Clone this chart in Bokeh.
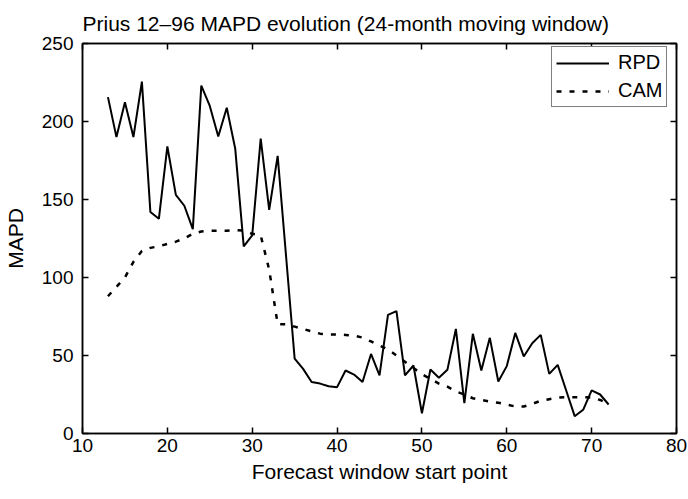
from bokeh.plotting import figure
from bokeh.models import LinearAxis, FixedTicker, Range1d
from bokeh.embed import file_html
from bokeh.resources import INLINE

# forecast window start points
window_start = list(range(13, 73))

# MAPD, one value per start point
rpd = [215.6, 190, 212.4, 190, 225.6, 142, 137.6, 184, 153, 146,
       131, 223, 210, 190.4, 208.8, 182.5, 120, 127, 189, 143.4,
       178, 113, 48, 41.4, 33, 32, 30.3, 29.7, 40.4, 37.8,
       33, 51, 37.2, 76, 78.4, 37.2, 43.6, 13, 41, 35.7,
       40.8, 67, 19.4, 63.9, 40.4, 61.3, 33.3, 43.2, 64.5, 49.4,
       57.9, 63.2, 38.2, 44, 27.6, 11.1, 15.2, 27.6, 25, 18.6]
cam = [88, 94, 100, 110, 117, 119, 120, 121.5, 123, 125,
       128, 129.5, 130, 130, 130, 130.5, 130, 128, 127, 105,
       70, 70, 68.5, 67, 65.5, 64, 63.5, 63.5, 63.2, 62.8,
       61.5, 59, 56.4, 54, 50, 46, 42, 38, 35, 32,
       30, 27, 25, 22.6, 21.5, 20.5, 19.7, 18.5, 17.3, 17.3,
       19, 21, 22, 23, 23.3, 23.3, 23.3, 23, 21.5, 19]

x_ticks = [10, 20, 30, 40, 50, 60, 70, 80]
y_ticks = [0, 50, 100, 150, 200, 250]

FONT = "Liberation Sans"

p = figure(width=688, height=491, output_backend="svg", toolbar_location=None,
           x_range=Range1d(10, 80), y_range=Range1d(0, 250),
           x_axis_label="Forecast window start point", y_axis_label="MAPD",
           title="Prius 12\u201396 MAPD evolution (24-month moving window)",
           min_border_left=78, min_border_top=43, min_border_right=12, min_border_bottom=58,
           styles={"position": "absolute", "left": "0px", "top": "0px"})

p.title.text_font = FONT
p.title.text_font_size = "21px"
p.title.text_font_style = "normal"
p.title.text_color = "black"
p.title.align = "left"
p.title.standoff = 18

p.grid.visible = False
p.outline_line_color = "black"
p.outline_line_width = 1.5

# box axes on top and right, ticks only
p.add_layout(LinearAxis(), "above")
p.add_layout(LinearAxis(), "right")

for ax in p.axis:
    ax.axis_line_color = "black"
    ax.axis_line_width = 1.5
    ax.major_tick_in = 6
    ax.major_tick_out = 0
    ax.minor_tick_in = 0
    ax.minor_tick_out = 0
    ax.major_tick_line_color = "black"
    ax.major_tick_line_width = 1.5
    ax.major_label_text_font = FONT
    ax.major_label_text_font_size = "19px"
    ax.major_label_text_color = "black"
    ax.axis_label_text_font = FONT
    ax.axis_label_text_font_size = "21px"
    ax.axis_label_text_font_style = "normal"
    ax.axis_label_text_color = "black"

for ax in p.xaxis:
    ax.ticker = FixedTicker(ticks=x_ticks)
for ax in p.yaxis:
    ax.ticker = FixedTicker(ticks=y_ticks)

for ax in (p.above[-1], p.right[0]):
    ax.major_label_text_font_size = "1px"
    ax.major_label_text_color = None
    ax.major_label_standoff = 0

p.xaxis[0].major_label_standoff = 13
p.xaxis[0].axis_label_standoff = 6
p.yaxis[0].major_label_standoff = 9
p.yaxis[0].axis_label_standoff = 12

p.line(window_start, rpd, line_color="black", line_width=2, legend_label="RPD")
p.line(window_start, cam, line_color="black", line_width=2.5, line_dash="5 8", legend_label="CAM")

lg = p.legend[0]
lg.location = (469, 326)
lg.border_line_color = "black"
lg.border_line_width = 1
lg.background_fill_alpha = 1
lg.label_text_font = FONT
lg.label_text_font_size = "20px"
lg.label_text_color = "black"
lg.glyph_width = 53
lg.glyph_height = 20
lg.label_height = 20
lg.label_standoff = 9
lg.padding = 4
lg.spacing = 5
lg.margin = 0

open("out.html", "w").write(file_html(p, INLINE))
